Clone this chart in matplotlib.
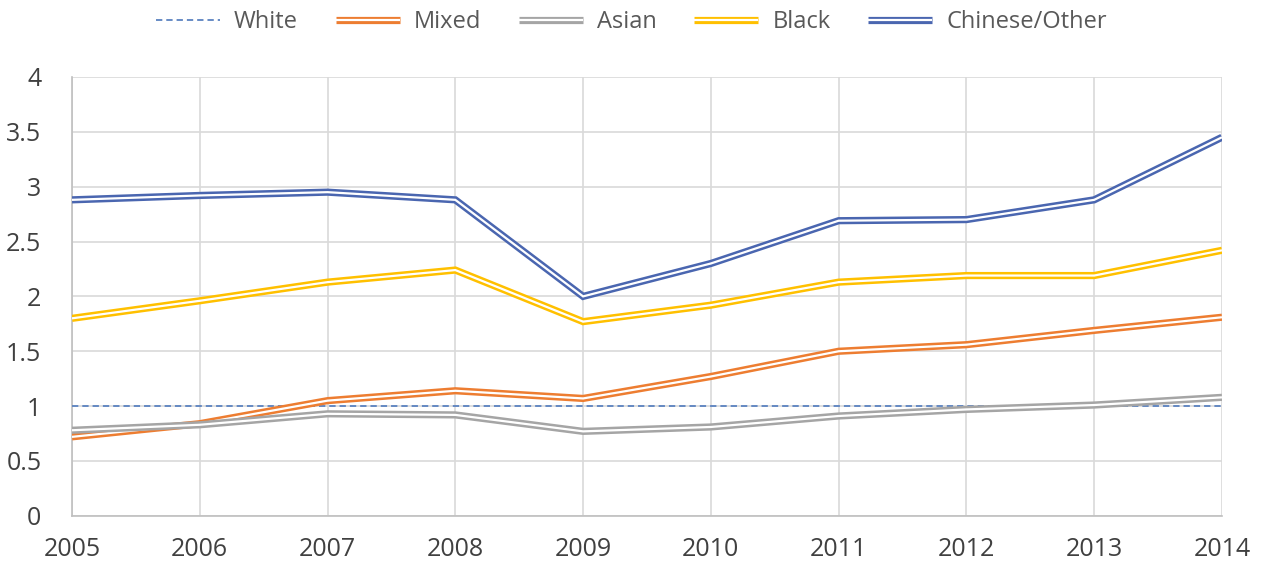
import matplotlib
matplotlib.use("Agg")
import matplotlib.pyplot as plt

years = [2005, 2006, 2007, 2008, 2009, 2010, 2011, 2012, 2013, 2014]
white = [1.0, 1.0, 1.0, 1.0, 1.0, 1.0, 1.0, 1.0, 1.0, 1.0]
mixed = [0.72, 0.84, 1.05, 1.14, 1.07, 1.27, 1.50, 1.56, 1.69, 1.81]
asian = [0.78, 0.83, 0.93, 0.92, 0.77, 0.81, 0.91, 0.97, 1.01, 1.08]
black = [1.80, 1.96, 2.13, 2.24, 1.77, 1.92, 2.13, 2.19, 2.19, 2.42]
chinese_other = [2.88, 2.92, 2.95, 2.88, 2.00, 2.30, 2.69, 2.70, 2.88, 3.45]

yticks = [0, 0.5, 1, 1.5, 2, 2.5, 3, 3.5, 4]

plt.rcParams["font.family"] = ["Open Sans", "DejaVu Sans"]

fig = plt.figure(figsize=(12.63, 5.70), dpi=100)
ax = fig.add_axes([0.057, 0.095, 0.9105, 0.77])

handles = []
w_line, = ax.plot(years, white, color="#5B82C0", lw=1.3, ls=(0, (3.5, 2.2)),
                  label="White", zorder=3)
handles.append(w_line)

# double-stroke lines: a thick coloured line with a thin white core
series = [("Mixed", mixed, "#ED7D31"),
          ("Asian", asian, "#A5A5A5"),
          ("Black", black, "#FFC000"),
          ("Chinese/Other", chinese_other, "#4A66B0")]
for i, (name, vals, col) in enumerate(series):
    outer, = ax.plot(years, vals, color=col, lw=5.2, solid_joinstyle="miter",
                     solid_capstyle="butt", zorder=4 + i)
    inner, = ax.plot(years, vals, color="white", lw=1.6, solid_joinstyle="miter",
                     solid_capstyle="butt", zorder=4 + i)
    handles.append((outer, inner))

ax.set_xlim(2005, 2014)
ax.set_ylim(0, 4)
ax.set_xticks(years)
ax.set_yticks(yticks)
ax.set_yticklabels([f"{t:g}" for t in yticks])
ax.grid(True, color="#D9D9D9", lw=1.2)
ax.set_axisbelow(True)
for side in ["top", "right"]:
    ax.spines[side].set_visible(False)
for side in ["left", "bottom"]:
    ax.spines[side].set_color("#BFBFBF")
    ax.spines[side].set_linewidth(1.2)
ax.tick_params(length=0, labelsize=18, labelcolor="#404040")
ax.tick_params(axis="x", pad=15)
ax.tick_params(axis="y", pad=22)

labels = ["White", "Mixed", "Asian", "Black", "Chinese/Other"]
leg = fig.legend(handles, labels, loc="upper center", bbox_to_anchor=(0.5, 1.02),
                 ncol=5, frameon=False, fontsize=17, handlelength=2.7,
                 handletextpad=0.6, columnspacing=1.6)
for t in leg.get_texts():
    t.set_color("#595959")

fig.savefig("out.png", dpi=100)
